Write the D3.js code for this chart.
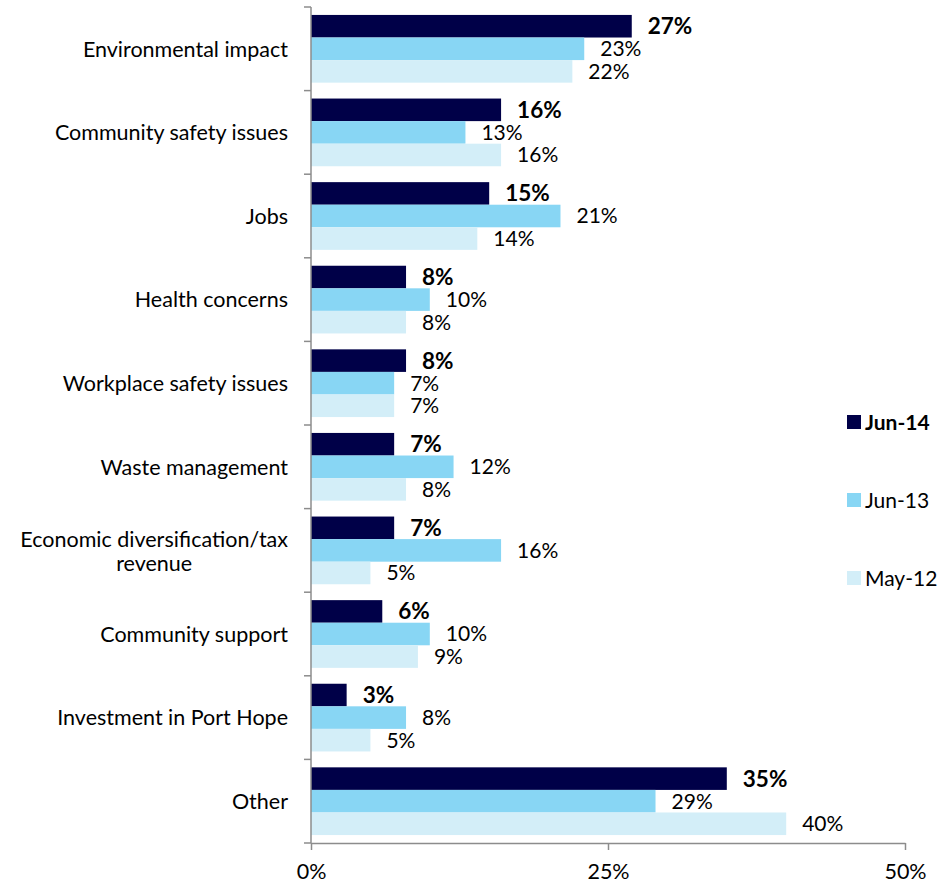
<!DOCTYPE html>
<html>
<head>
<meta charset="utf-8">
<script src="https://cdn.jsdelivr.net/npm/d3@7/dist/d3.min.js"></script>
<style>
  body { margin: 0; background: #fff; }
  svg { display: block; font-family: Lato, "Liberation Sans", sans-serif; }
</style>
</head>
<body>
<svg id="chart" width="943" height="883"></svg>
<script>
// categories, top to bottom
const categories = [
  "Environmental impact", "Community safety issues", "Jobs", "Health concerns",
  "Workplace safety issues", "Waste management", "Economic diversification/tax revenue",
  "Community support", "Investment in Port Hope", "Other"
];
const series = ["Jun-14", "Jun-13", "May-12"];
const jun14 = [27, 16, 15, 8, 8, 7, 7, 6, 3, 35];
const jun13 = [23, 13, 21, 10, 7, 12, 16, 10, 8, 29];
const may12 = [22, 16, 14, 8, 7, 8, 5, 9, 5, 40];
const xTicks = [0, 25, 50];
const colors = ["#000048", "#88D6F4", "#D3EEF8"];

const values = [jun14, jun13, may12];
const svg = d3.select("#chart");
const m = { left: 311, top: 7, right: 38, bottom: 40 };
const W = 943, H = 883;
const fs = 21.5;

const x = d3.scaleLinear().domain([0, 50]).range([m.left, W - m.right]);
const y = d3.scaleBand().domain(categories).range([m.top, H - m.bottom]).paddingInner(0.19).paddingOuter(0.095);
const ySub = d3.scaleBand().domain(series).range([0, y.bandwidth()]);

// bars + labels
categories.forEach((c, i) => {
  const g = svg.append("g").attr("transform", `translate(0,${y(c)})`);
  series.forEach((s, j) => {
    const v = values[j][i];
    g.append("rect")
      .attr("x", x(0)).attr("y", ySub(s))
      .attr("width", x(v) - x(0)).attr("height", ySub.bandwidth())
      .attr("fill", colors[j]);
    g.append("text")
      .attr("x", x(v) + 16).attr("y", ySub(s) + ySub.bandwidth() / 2)
      .attr("dy", "0.35em")
      .attr("font-size", j === 0 ? 22.5 : 21)
      .attr("font-weight", j === 0 ? "bold" : "normal")
      .attr("fill", "#000")
      .text(v + "%");
  });
});

// y axis line and ticks between groups
const axisColor = "#8c8c8c";
svg.append("line").attr("x1", x(0)).attr("x2", x(0))
  .attr("y1", m.top).attr("y2", H - m.bottom)
  .attr("stroke", axisColor).attr("stroke-width", 1.5);
const step = (H - m.bottom - m.top) / categories.length;
d3.range(categories.length + 1).forEach(k => {
  svg.append("line").attr("x1", x(0) - 7).attr("x2", x(0))
    .attr("y1", m.top + k * step).attr("y2", m.top + k * step)
    .attr("stroke", axisColor).attr("stroke-width", 1.5);
});

// x axis
const xAxis = svg.append("g").attr("transform", `translate(0,${H - m.bottom})`)
  .call(d3.axisBottom(x).tickValues(xTicks).tickFormat(d => d + "%").tickSize(7).tickSizeOuter(0));
xAxis.select(".domain").attr("stroke", axisColor).attr("stroke-width", 1.5);
xAxis.selectAll(".tick line").attr("stroke", axisColor).attr("stroke-width", 1.5);
xAxis.selectAll(".tick text").attr("font-size", fs).attr("font-family", "Lato, sans-serif")
  .attr("fill", "#000").attr("dy", "1.2em");

// category labels
categories.forEach(c => {
  const cy = y(c) + y.bandwidth() / 2;
  if (c === "Economic diversification/tax revenue") {
    const t = svg.append("text").attr("font-size", fs).attr("text-anchor", "middle");
    const l1 = t.append("tspan").text("Economic diversification/tax");
    const w = l1.node().getComputedTextLength();
    l1.attr("x", 288 - w / 2).attr("y", cy - 11).attr("dy", "0.36em");
    t.append("tspan").attr("x", 288 - w / 2).attr("y", cy + 13).attr("dy", "0.36em").text("revenue");
  } else {
    svg.append("text").attr("x", 288).attr("y", cy).attr("dy", "0.36em")
      .attr("text-anchor", "end").attr("font-size", fs).text(c);
  }
});

// legend
const legY = [422, 500, 578];
series.forEach((s, j) => {
  svg.append("rect").attr("x", 847).attr("y", legY[j] - 7).attr("width", 14).attr("height", 14)
    .attr("fill", colors[j]);
  svg.append("text").attr("x", 865).attr("y", legY[j]).attr("dy", "0.36em")
    .attr("font-size", 21).attr("font-weight", j === 0 ? "bold" : "normal").text(s);
});
</script>
</body>
</html>
